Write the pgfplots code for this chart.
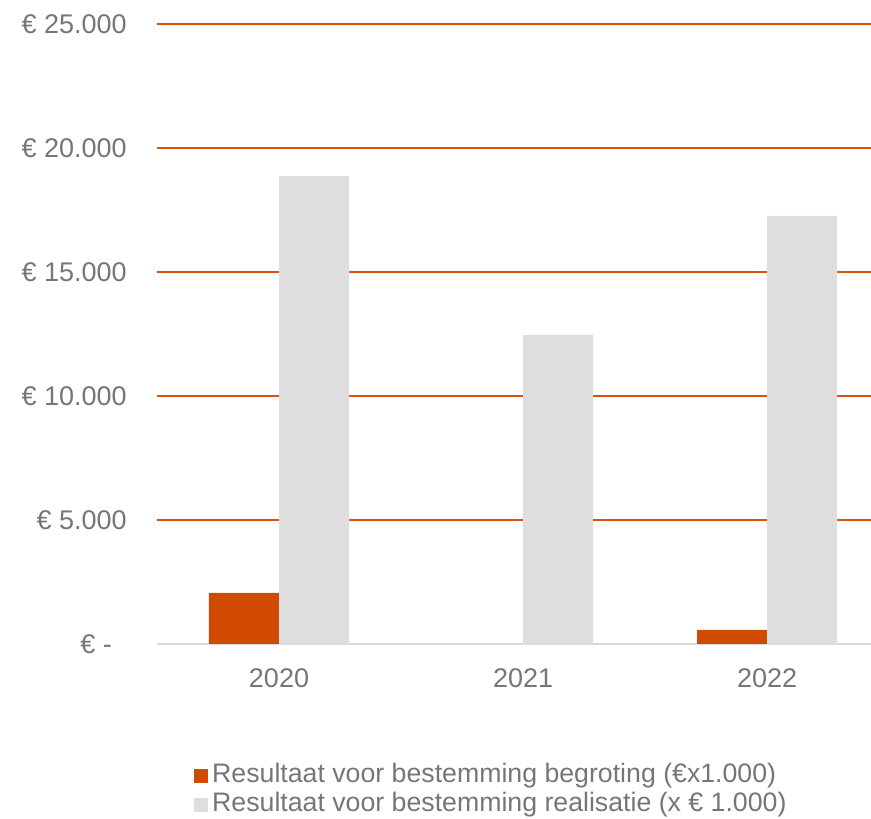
\documentclass[border=0pt]{standalone}
\usepackage{fontspec}
\setmainfont{Liberation Sans}
\usepackage{pgfplots}
\pgfplotsset{compat=1.18}

\definecolor{pwcorange}{HTML}{D04A02}
\definecolor{gridorange}{HTML}{D9530A}
\definecolor{bargrey}{HTML}{DEDEDE}
\definecolor{labelgrey}{HTML}{767676}
\definecolor{axisgrey}{HTML}{D9D9D9}

\newcommand{\chartfont}{\fontsize{27bp}{32bp}\selectfont}
\newcommand{\legendfont}{\fontsize{26.7bp}{32bp}\selectfont}

\begin{document}
\begin{tikzpicture}
\begin{axis}[
  at={(157bp,175bp)}, anchor=south west,
  scale only axis, width=714bp, height=620bp,
  xmin=-0.5, xmax=2.426, ymin=0, ymax=25000,
  axis line style={draw=none},
  tick style={draw=none},
  scaled y ticks=false,
  xtick={0,1,2}, xticklabels={2020,2021,2022},
  ytick={5000,10000,15000,20000,25000},
  yticklabels={€ 5.000,€ 10.000,€ 15.000,€ 20.000,€ 25.000},
  extra y ticks={0},
  extra y tick labels={€ -\phantom{0}},
  extra y tick style={grid style={axisgrey, line width=2bp}},
  ymajorgrids,
  grid style={gridorange, line width=1.8bp},
  every tick label/.append style={inner sep=0pt, font=\chartfont, text=labelgrey},
  yticklabel style={anchor=east, xshift=-30bp},
  xticklabel style={anchor=north, yshift=-24bp},
  clip=false,
  legend style={at={(axis description cs:0.0518,-0.1885)}, anchor=north west,
    draw=none, fill=none, inner sep=0pt, font=\legendfont, text=labelgrey,
    cells={anchor=west},
    nodes={inner xsep=4bp, inner ysep=0bp, text height=21bp, text depth=8bp}},
  legend image code/.code={\fill[#1] (0bp,-7bp) rectangle (14bp,7bp);},
]
\addplot[ybar, bar width=0.287, bar shift=-0.1435, fill=pwcorange, draw=none]
  coordinates {(0,2060) (2,570)};
\addlegendentry{Resultaat voor bestemming begroting (€x1.000)}
\addplot[ybar, bar width=0.287, bar shift=0.1435, fill=bargrey, draw=none]
  coordinates {(0,18870) (1,12460) (2,17260)};
\addlegendentry{Resultaat voor bestemming realisatie (x € 1.000)}
\end{axis}
\pgfresetboundingbox
\path[use as bounding box] (0,0) rectangle (871bp,819bp);
\end{tikzpicture}
\end{document}
